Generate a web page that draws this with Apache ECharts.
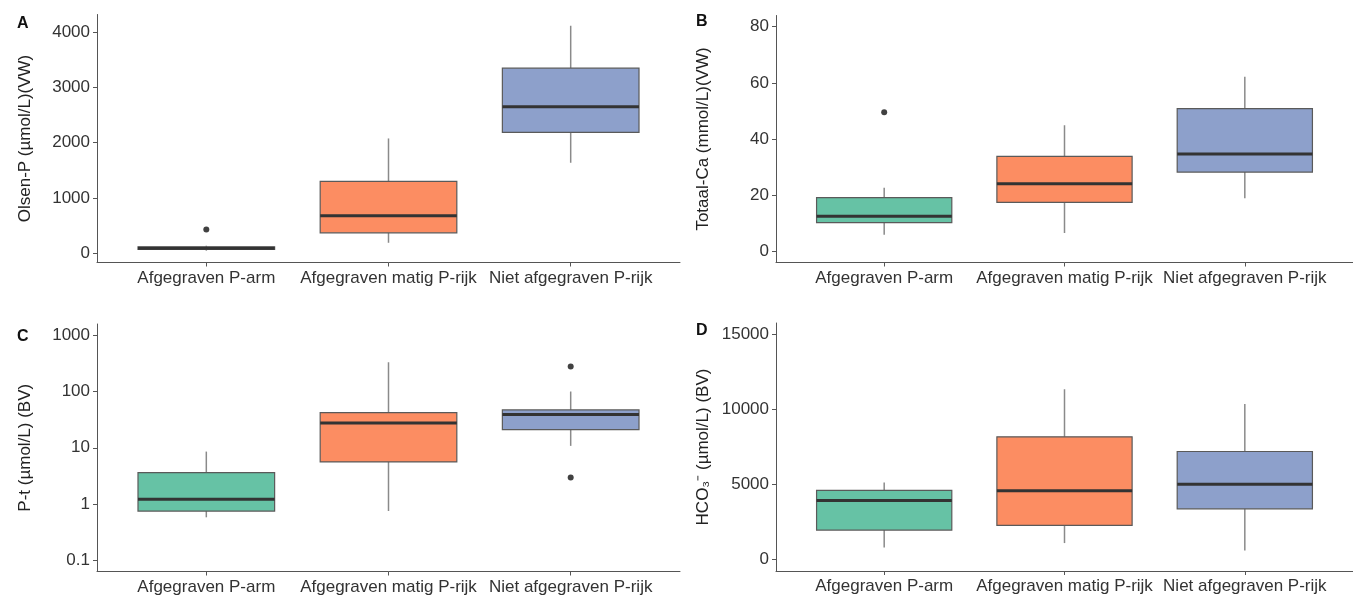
<!DOCTYPE html>
<html><head><meta charset="utf-8">
<script src="https://cdn.jsdelivr.net/npm/echarts@6/dist/echarts.min.js"></script>
<style>html,body{margin:0;padding:0;background:#fff}#c{width:1353px;height:598px}</style>
</head><body><div id="c"></div>
<script>
const categories = ['Afgegraven P-arm', 'Afgegraven matig P-rijk', 'Niet afgegraven P-rijk'];
// boxes: [min, Q1, median, Q3, max] per category
const olsenP = [[50, 72, 96, 118, 140], [193, 373, 680, 1300, 2076], [1637, 2184, 2647, 3345, 4110]];
const olsenPOutliers = [[1, 433]];
const totaalCa = [[5.9, 10.2, 12.5, 19.1, 22.6], [6.5, 17.4, 24.1, 33.8, 44.9], [18.9, 28.2, 34.7, 50.8, 62.2]];
const totaalCaOutliers = [[1, 49.5]];
const pt = [[0.58, 0.75, 1.21, 3.62, 8.55], [0.75, 5.6, 27.6, 42.2, 331], [10.8, 21, 38.9, 47, 100]];
const ptOutliers = [[3, 277], [3, 2.95]];
const hco3 = [[820, 1972, 3943, 4608, 5140], [1108, 2282, 4586, 8175, 11342], [620, 3389, 5029, 7200, 10368]];
const hco3Outliers = [];
const ticksA = [0, 1000, 2000, 3000, 4000];
const ticksB = [0, 20, 40, 60, 80];
const ticksC = [0.1, 1, 10, 100, 1000];
const ticksD = [0, 5000, 10000, 15000];
const yNames = ['Olsen-P (µmol/L)(VW)', 'Totaal-Ca (mmol/L)(VW)', 'P-t (µmol/L) (BV)', 'HCO₃⁻ (µmol/L) (BV)'];
const panelLetters = ['A', 'B', 'C', 'D'];

const fills = ['#66C2A5', '#FC8D62', '#8DA0CB'];
const FONT = 'Liberation Sans, Arial, sans-serif';
const chart = echarts.init(document.getElementById('c'));

const grids = [
  {left: 97, top: 14.5, width: 583, height: 248},
  {left: 776, top: 15.5, width: 583, height: 247},
  {left: 97, top: 324, width: 583, height: 247.5},
  {left: 776, top: 323, width: 583, height: 248}
];
const yDefs = [
  {type: 'value', min: -163, max: 4313, ticks: ticksA, data: olsenP, out: olsenPOutliers},
  {type: 'value', min: -4, max: 84, ticks: ticksB, data: totaalCa, out: totaalCaOutliers},
  {type: 'log', min: Math.pow(10, -1.2), max: Math.pow(10, 3.2), ticks: ticksC, data: pt, out: ptOutliers},
  {type: 'value', min: -750, max: 15750, ticks: ticksD, data: hco3, out: hco3Outliers}
];

const axisLineStyle = {color: '#555', width: 1};
const xAxes = grids.map((g, i) => ({
  type: 'value', gridIndex: i, min: 0.4, max: 3.6,
  axisLine: {show: true, onZero: false, lineStyle: axisLineStyle},
  axisTick: {show: true, length: 4, lineStyle: axisLineStyle, customValues: [1, 2, 3]},
  axisLabel: {customValues: [1, 2, 3], formatter: v => categories[Math.round(v) - 1] || '',
    color: '#333', fontSize: 17, fontFamily: FONT, margin: 7},
  splitLine: {show: false}
}));
const yAxes = yDefs.map((d, i) => ({
  type: d.type, gridIndex: i, min: d.min, max: d.max, logBase: 10,
  name: yNames[i], nameLocation: 'middle', nameRotate: 90, nameGap: i % 2 === 0 ? 63 : 64,
  nameTextStyle: {color: '#222', fontSize: 17, fontFamily: FONT},
  axisLine: {show: true, onZero: false, lineStyle: axisLineStyle},
  axisTick: {show: true, length: 4, lineStyle: axisLineStyle, customValues: d.ticks},
  axisLabel: {customValues: d.ticks, color: '#333', fontSize: 17, fontFamily: FONT, margin: 7,
    formatter: v => String(v)},
  splitLine: {show: false}
}));

function renderBox(params, api) {
  const x = api.value(0);
  const lo = api.value(1), q1 = api.value(2), med = api.value(3), q3 = api.value(4), hi = api.value(5);
  const left = api.coord([x - 0.375, med])[0];
  const right = api.coord([x + 0.375, med])[0];
  const cx = api.coord([x, med])[0];
  const yLo = api.coord([x, lo])[1], yQ1 = api.coord([x, q1])[1], yMed = api.coord([x, med])[1];
  const yQ3 = api.coord([x, q3])[1], yHi = api.coord([x, hi])[1];
  const wStyle = {stroke: '#8a8a8a', lineWidth: 1.5};
  return {
    type: 'group',
    children: [
      {type: 'line', shape: {x1: cx, y1: yLo, x2: cx, y2: yQ1}, style: wStyle},
      {type: 'line', shape: {x1: cx, y1: yQ3, x2: cx, y2: yHi}, style: wStyle},
      {type: 'rect', shape: {x: left, y: yQ3, width: right - left, height: yQ1 - yQ3},
        style: {fill: fills[params.dataIndex], stroke: '#5a5a5a', lineWidth: 1.2}},
      {type: 'line', shape: {x1: left, y1: yMed, x2: right, y2: yMed}, style: {stroke: '#333', lineWidth: 3}}
    ]
  };
}

const series = [];
yDefs.forEach((d, i) => {
  series.push({
    type: 'custom', xAxisIndex: i, yAxisIndex: i, renderItem: renderBox,
    encode: {x: 0, y: [1, 2, 3, 4, 5]},
    data: d.data.map((b, k) => [k + 1].concat(b)), silent: true
  });
  series.push({
    type: 'scatter', xAxisIndex: i, yAxisIndex: i, symbolSize: 6,
    itemStyle: {color: '#111'}, data: d.out, silent: true
  });
});

const letterPos = [[17, 16], [696, 14], [17, 329], [696, 323]];
const graphic = panelLetters.map((t, i) => ({
  type: 'text', left: letterPos[i][0], top: letterPos[i][1],
  style: {text: t, font: 'bold 16px ' + FONT, fill: '#111'}
}));

chart.setOption({
  animation: false,
  grid: grids,
  xAxis: xAxes,
  yAxis: yAxes,
  series: series,
  graphic: graphic
});
</script></body></html>
